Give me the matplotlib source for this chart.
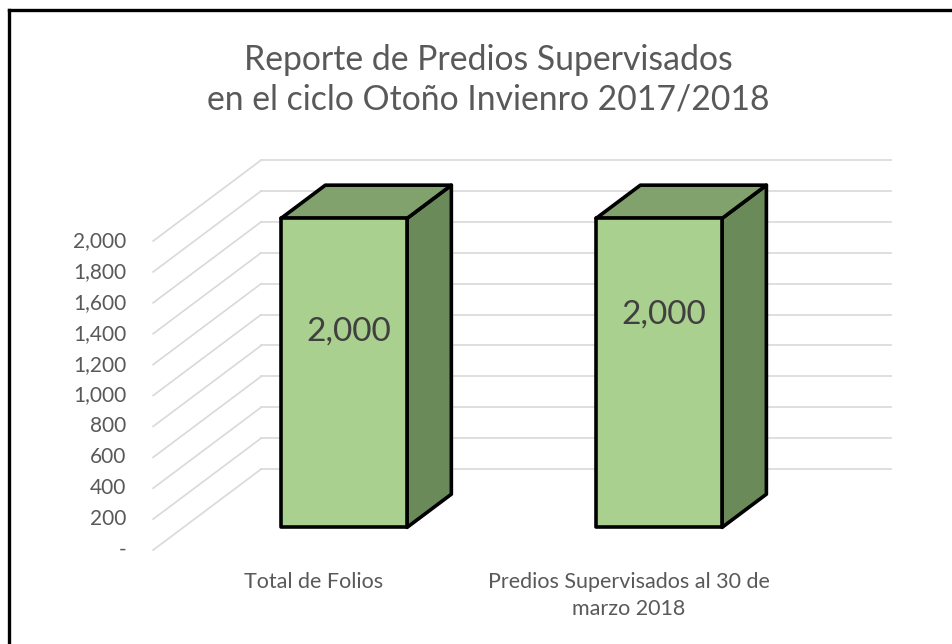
import matplotlib.pyplot as plt
from matplotlib.patches import Polygon
from matplotlib.lines import Line2D

categories = ["Total de Folios", "Predios Supervisados al 30 de\nmarzo 2018"]
values = [2000, 2000]
ticks = [0, 200, 400, 600, 800, 1000, 1200, 1400, 1600, 1800, 2000]
title = "Reporte de Predios Supervisados\nen el ciclo Otoño Invienro 2017/2018"

# oblique "3D" look: depth vector (category units, value units) for the full floor depth
DX, DY = 0.343, 524
F0, F1 = 0.28, 0.69      # bar front / back depth
W = 0.20                 # half bar width
XMIN, XMAX = -0.51, 1.49

txt = '#595959'
grid = '#d9d9d9'
c_front, c_top, c_side = '#a9d08e', '#82a26d', '#6b8a5a'

plt.rcParams['font.family'] = ['Lato', 'DejaVu Sans']

fig = plt.figure(figsize=(9.53, 6.44), dpi=100)
ax = fig.add_axes([0, 0, 1, 1])
ax.set_xlim(-0.996, 2.029)
ax.set_ylim(-608, 3560)
ax.axis('off')

# gridlines: side wall diagonals + back wall horizontals
for t in ticks:
    ax.plot([XMIN, XMIN + DX], [t, t + DY], color=grid, lw=1.2, zorder=1)
    ax.plot([XMIN + DX, XMAX + DX], [t + DY, t + DY], color=grid, lw=1.2, zorder=1)
    lab = '-' if t == 0 else f"{t:,}"
    ax.annotate(lab, xy=(XMIN, t), xytext=(-27, 0), textcoords='offset pixels',
                ha='right', va='center', fontsize=15, color=txt)

# bars
lab_frac = [0.635, 0.69]
for i, v in enumerate(values):
    xl, xr = i - W, i + W
    side = [(xr + F0*DX, F0*DY), (xr + F1*DX, F1*DY),
            (xr + F1*DX, v + F1*DY), (xr + F0*DX, v + F0*DY)]
    top = [(xl + F0*DX, v + F0*DY), (xr + F0*DX, v + F0*DY),
           (xr + F1*DX, v + F1*DY), (xl + F1*DX, v + F1*DY)]
    ax.add_patch(Polygon(side, closed=True, fc=c_side, ec='black', lw=2.6, joinstyle='round', zorder=3))
    ax.add_patch(Polygon(top, closed=True, fc=c_top, ec='black', lw=2.6, joinstyle='round', zorder=3))
    ax.bar(i + F0*DX, v, bottom=F0*DY, width=2*W, color=c_front, edgecolor='black',
           linewidth=2.6, joinstyle='round', zorder=4)
    ax.annotate(f"{v:,}", xy=(i + F0*DX, v*lab_frac[i] + F0*DY), xytext=(5, 0),
                textcoords='offset pixels', ha='center', va='center',
                fontsize=24, color='#404040', zorder=5)

# category labels
for i, c in enumerate(categories):
    ax.annotate(c, xy=(i, 0), xytext=(0, -22), textcoords='offset pixels',
                ha='center', va='top', fontsize=15.5, color=txt, linespacing=1.45)

fig.text(488/953, 1 - 80/644, title, ha='center', va='center', fontsize=24.3,
         color=txt, linespacing=1.3)

# chart border (left and top visible)
fig.add_artist(Line2D([9.5/953, 9.5/953], [0, 1 - 9.5/644], color='black', lw=2.4,
                      transform=fig.transFigure))
fig.add_artist(Line2D([9.5/953, 1], [1 - 9.5/644, 1 - 9.5/644], color='black', lw=2.4,
                      transform=fig.transFigure))

fig.savefig('out.png', dpi=100)
